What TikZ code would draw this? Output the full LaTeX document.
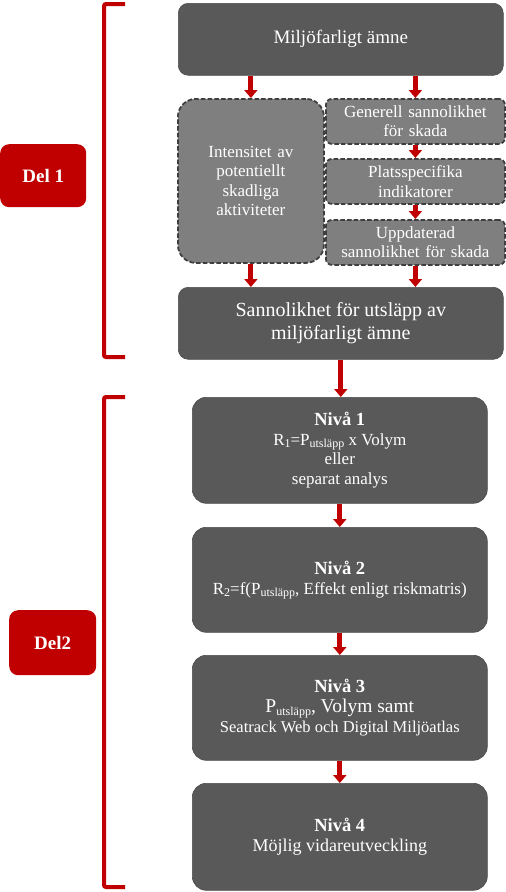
\documentclass[tikz,border=0pt]{standalone}
\usepackage{fontspec}
\setmainfont{Liberation Serif}
\usetikzlibrary{arrows.meta}
\definecolor{dark}{HTML}{595959}
\definecolor{mid}{HTML}{7F7F7F}
\definecolor{dashc}{HTML}{3F3F3F}
\definecolor{redc}{HTML}{C00000}
\newcommand\subtx[1]{\raisebox{-0.3ex}{\fontsize{12}{12}\selectfont #1}}
\newcommand\nivtitle[1]{{\fontsize{18.5}{20}\selectfont\bfseries #1}}
\tikzset{
  darkbox/.style={fill=dark, draw=dark!85!black, line width=0.6pt, rounded corners=10pt, text=white, align=center, inner sep=2pt, anchor=north west},
  dashbox/.style={fill=mid, draw=dashc, line width=1.8pt, dash pattern=on 4.5pt off 2.2pt, text=white, align=center, inner sep=1pt, anchor=north west},
  delbox/.style={fill=redc, draw=none, rounded corners=9pt, text=white, font=\fontsize{19}{22}\selectfont\bfseries, anchor=north west},
  arr/.style={draw=redc, line width=5pt, -{Triangle[width=13pt,length=8pt]}},
  brk/.style={draw=redc, line width=4pt, rounded corners=2pt},
}
\begin{document}
\begin{tikzpicture}[x=1pt,y=-1pt]
\useasboundingbox (0,0) rectangle (506,892);
% Part 1
\node[darkbox, minimum width=325pt, minimum height=72pt, font=\fontsize{19}{22}\selectfont] (top) at (178,3) {Miljöfarligt ämne};
\node[dashbox, rounded corners=18pt, minimum width=146pt, minimum height=164pt, text width=130pt, font=\fontsize{17}{19.5}\selectfont] (int) at (177,98) {Intensitet av\\potentiellt\\skadliga\\aktiviteter};
\node[dashbox, rounded corners=6pt, minimum width=179pt, minimum height=45pt, text width=177pt, font=\fontsize{17}{19.5}\selectfont] (gen) at (325,98) {Generell sannolikhet\\för skada};
\node[dashbox, rounded corners=6pt, minimum width=179pt, minimum height=45pt, text width=177pt, font=\fontsize{17}{19.5}\selectfont] (plats) at (325,158) {Platsspecifika\\indikatorer};
\node[dashbox, rounded corners=6pt, minimum width=179pt, minimum height=45pt, text width=177pt, font=\fontsize{17}{19.5}\selectfont] (upd) at (325,219) {Uppdaterad\\sannolikhet för skada};
\node[darkbox, minimum width=325pt, minimum height=72pt, font=\fontsize{20}{23}\selectfont] (sann) at (178,287) {Sannolikhet för utsläpp av\\miljöfarligt ämne};
% Part 2
\node[darkbox, rounded corners=14pt, minimum width=295pt, minimum height=106pt, font=\fontsize{17}{19.5}\selectfont] (n1) at (192,397) {\nivtitle{Nivå 1}\\R\subtx{1}=P\subtx{utsläpp} x Volym\\eller\\separat analys};
\node[darkbox, rounded corners=14pt, minimum width=295pt, minimum height=105pt, font=\fontsize{17}{20}\selectfont] (n2) at (192,527) {\nivtitle{Nivå 2}\\R\subtx{2}=f(P\subtx{utsläpp}, Effekt enligt riskmatris)};
\node[darkbox, rounded corners=14pt, minimum width=295pt, minimum height=105pt, font=\fontsize{16.5}{20}\selectfont] (n3) at (192,655) {\nivtitle{Nivå 3}\\{\fontsize{19.5}{21}\selectfont P\subtx{utsläpp}, Volym samt}\\Seatrack Web och Digital Miljöatlas};
\node[darkbox, rounded corners=14pt, minimum width=295pt, minimum height=107pt, font=\fontsize{18}{20}\selectfont] (n4) at (192,783) {\nivtitle{Nivå 4}\\Möjlig vidareutveckling};
% Del labels
\node[delbox, minimum width=86pt, minimum height=63pt] (del1) at (0,144) {Del 1};
\node[delbox, minimum width=87pt, minimum height=65pt] (del2) at (9,610) {Del2};
% Brackets
\draw[brk] (125,4) -- (104,4) -- (104,357) -- (125,357);
\draw[brk] (125,397) -- (104,397) -- (104,887) -- (125,887);
% Arrows
\draw[arr] (int.north |- top.south) -- (int.north);
\draw[arr] (gen.north |- top.south) -- (gen.north);
\draw[arr] (gen.south) -- (plats.north);
\draw[arr] (plats.south) -- (upd.north);
\draw[arr] (int.south) -- (int.south |- sann.north);
\draw[arr] (upd.south) -- (upd.south |- sann.north);
\draw[arr] (sann.south) -- (sann.south |- n1.north);
\draw[arr] (n1.south) -- (n2.north);
\draw[arr] (n2.south) -- (n3.north);
\draw[arr] (n3.south) -- (n4.north);
\end{tikzpicture}
\end{document}
